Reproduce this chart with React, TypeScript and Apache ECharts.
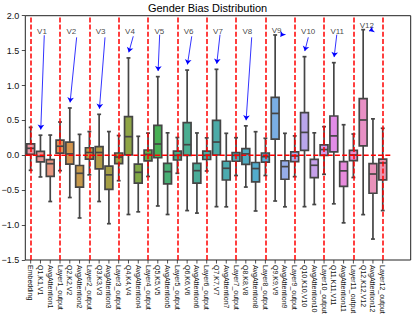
import React, { useEffect, useRef } from "react";
import * as echarts from "echarts";

// ---------------- data ----------------
const categories = [
  "Embedding",
  "Q1,K1,V1", "AvgAttention1", "Layer1_output",
  "Q2,K2,V2", "AvgAttention2", "Layer2_output",
  "Q3,K3,V3", "AvgAttention3", "Layer3_output",
  "Q4,K4,V4", "AvgAttention4", "Layer4_output",
  "Q5,K5,V5", "AvgAttention5", "Layer5_output",
  "Q6,K6,V6", "AvgAttention6", "Layer6_output",
  "Q7,K7,V7", "AvgAttention7", "Layer7_output",
  "Q8,K8,V8", "AvgAttention8", "Layer8_output",
  "Q9,K9,V9", "AvgAttention9", "Layer9_output",
  "Q10,K10,V10", "AvgAttention10", "Layer10_output",
  "Q11,K11,V11", "AvgAttention11", "Layer11_output",
  "Q12,K12,V12", "AvgAttention12", "Layer12_output",
];

const whiskerLow = [
  -0.215,
  -0.31, -0.662, -0.22,
  -0.605, -0.898, -0.28,
  -0.662, -0.98, -0.364,
  -0.848, -0.81, -0.303,
  -0.726, -0.848, -0.258,
  -0.792, -0.828, -0.225,
  -0.736, -0.738, -0.29,
  -0.455, -0.798, -0.29,
  -0.655, -0.738, -0.306,
  -0.736, -0.705, -0.272,
  -0.695, -0.968, -0.318,
  -0.85, -1.2, -0.792,
];
const quartile1 = [
  0.015,
  -0.093, -0.303, 0.03,
  -0.125, -0.455, -0.055,
  -0.195, -0.487, -0.12,
  0.005, -0.4, -0.08,
  -0.035, -0.41, -0.067,
  0.0, -0.398, -0.06,
  0.004, -0.354, -0.085,
  -0.13, -0.382, -0.098,
  0.232, -0.343, -0.09,
  0.07, -0.32, 0.0,
  0.048, -0.444, -0.075,
  0.136, -0.544, -0.352,
];
const medians = [
  0.1,
  -0.015, -0.12, 0.13,
  0.02, -0.258, 0.04,
  0.04, -0.28, -0.025,
  0.267, -0.244, 0.012,
  0.162, -0.234, 0.0,
  0.152, -0.22, 0.0,
  0.19, -0.186, 0.0,
  0.02, -0.19, -0.02,
  0.6, -0.162, -0.01,
  0.328, -0.143, 0.082,
  0.278, -0.223, 0.004,
  0.506, -0.268, -0.11,
];
const quartile3 = [
  0.165,
  0.055, -0.063, 0.218,
  0.19, -0.146, 0.108,
  0.125, -0.155, 0.033,
  0.553, -0.125, 0.076,
  0.43, -0.115, 0.06,
  0.467, -0.115, 0.06,
  0.5, -0.085, 0.038,
  0.095, -0.103, 0.033,
  0.83, -0.078, 0.05,
  0.61, -0.057, 0.148,
  0.563, -0.091, 0.07,
  0.813, -0.12, -0.055,
];
const whiskerHigh = [
  0.4,
  0.288, 0.29, 0.477,
  0.678, 0.3, 0.34,
  0.587, 0.34, 0.283,
  1.395, 0.272, 0.318,
  1.127, 0.322, 0.255,
  1.221, 0.32, 0.25,
  1.232, 0.315, 0.252,
  0.422, 0.338, 0.244,
  1.724, 0.315, 0.278,
  1.413, 0.322, 0.41,
  1.327, 0.438, 0.305,
  1.8, 0.522, 0.387,
];

const separatorIndices = [0, 3, 6, 9, 12, 15, 18, 21, 24, 27, 30, 33, 36];
const annotationLabels = ["V1", "V2", "V3", "V4", "V5", "V6", "V7", "V8", "V9", "V10", "V11", "V12"];
const annotationTargets = [1, 4, 7, 10, 13, 16, 19, 22, 25, 28, 31, 34];
const zeroLineSpan = [-0.55, 37];
const yTicks = { min: -1.5, max: 2.0, step: 0.5 };

// ---------------- layout (not data) ----------------
const X_MIN = -0.55;
const X_MAX = 38.86;
const BOX_W = 0.8;
const TICK_LEN = 3.5;
// [startDx, startDy (rel. text y), endDx, endDy (rel. whisker top)]
const arrowLayout = [
  [0.39, -0.06, 0.03, 0.08],
  [0.7, -0.09, 0.03, 0.08],
  [0.6, -0.09, 0.03, 0.08],
  [0.49, -0.075, 0.03, 0.08],
  [0.19, -0.052, 0.03, 0.08],
  [0.47, -0.075, 0.03, 0.08],
  [0.36, -0.052, 0.03, 0.08],
  [0.6, -0.09, 0.03, 0.08],
  [0.74, -0.046, 0.55, -0.024],
  [0.39, -0.09, 0.03, 0.08],
  [0.3, -0.052, 0.03, 0.08],
  [0.94, -0.06, 0.6, -0.02],
];
const FONT = "'Liberation Sans', Arial, sans-serif";

// ---------------- seaborn husl palette ----------------
const M = [
  [3.2406, -1.5372, -0.4986],
  [-0.9689, 1.8758, 0.0415],
  [0.0557, -0.204, 1.057],
];
function maxChroma(L: number, H: number) {
  const hrad = (H * Math.PI) / 180;
  const sinH = Math.sin(hrad);
  const cosH = Math.cos(hrad);
  const sub1 = Math.pow(L + 16, 3) / 1560896;
  const sub2 = sub1 > 0.008856 ? sub1 : L / 903.3;
  let result = Infinity;
  for (const [m1, m2, m3] of M) {
    const top = (0.99915 * m1 + 1.05122 * m2 + 1.1446 * m3) * sub2;
    const rbottom = 0.8633 * m3 - 0.17266 * m2;
    const lbottom = 0.12949 * m3 - 0.38848 * m1;
    const bottom = (rbottom * sinH + lbottom * cosH) * sub2;
    for (const t of [0, 1]) {
      const C = (L * (top - 1.05122 * t)) / (bottom + 0.17266 * sinH * t);
      if (C > 0 && C < result) result = C;
    }
  }
  return result;
}
function huslToRgb(H: number, S: number, L: number): number[] {
  const C = (maxChroma(L, H) / 100) * S;
  const hr = (H * Math.PI) / 180;
  const U = Math.cos(hr) * C;
  const V = Math.sin(hr) * C;
  const t = (L + 16) / 116;
  const varY = Math.pow(t, 3) > 0.008856 ? Math.pow(t, 3) : (116 * t - 16) / 903.3;
  const varU = U / (13 * L) + 0.19784;
  const varV = V / (13 * L) + 0.46834;
  const Y = varY;
  const X = -(9 * Y * varU) / ((varU - 4) * varV - varU * varV);
  const Z = (9 * Y - 15 * varV * Y - varV * X) / (3 * varV);
  return M.map((r) => {
    const c = r[0] * X + r[1] * Y + r[2] * Z;
    const v = c <= 0.0031308 ? 12.92 * c : 1.055 * Math.pow(c, 1 / 2.4) - 0.055;
    return Math.min(1, Math.max(0, v));
  });
}
function rgbToHls(r: number, g: number, b: number) {
  const maxc = Math.max(r, g, b);
  const minc = Math.min(r, g, b);
  const l = (maxc + minc) / 2;
  if (maxc === minc) return [0, l, 0];
  const rng = maxc - minc;
  const s = l <= 0.5 ? rng / (maxc + minc) : rng / (2 - maxc - minc);
  const rc = (maxc - r) / rng, gc = (maxc - g) / rng, bc = (maxc - b) / rng;
  let h = r === maxc ? bc - gc : g === maxc ? 2 + rc - bc : 4 + gc - rc;
  h = (((h / 6) % 1) + 1) % 1;
  return [h, l, s];
}
function hlsToRgb(h: number, l: number, s: number) {
  if (s === 0) return [l, l, l];
  const m2 = l <= 0.5 ? l * (1 + s) : l + s - l * s;
  const m1 = 2 * l - m2;
  const v = (hue: number) => {
    hue = ((hue % 1) + 1) % 1;
    if (hue < 1 / 6) return m1 + (m2 - m1) * hue * 6;
    if (hue < 0.5) return m2;
    if (hue < 2 / 3) return m1 + (m2 - m1) * (2 / 3 - hue) * 6;
    return m1;
  };
  return [v(h + 1 / 3), v(h), v(h - 1 / 3)];
}
const toHex = (c: number[]) =>
  "#" + c.map((x) => Math.round(x * 255).toString(16).padStart(2, "0")).join("");

const n = categories.length;
const desat = Array.from({ length: n }, (_, i) => {
  const hue = (((i / n) + 0.01) % 1) * 359;
  const rgb = huslToRgb(hue, 0.9 * 99, 0.7 * 99);
  const [h, l, s] = rgbToHls(rgb[0], rgb[1], rgb[2]);
  return hlsToRgb(h, l, s * 0.75);
});
const boxColors = desat.map(toHex);
const lum = Math.min(...desat.map((c) => rgbToHls(c[0], c[1], c[2])[1])) * 0.6;
const GRAY = toHex([lum, lum, lum]);

// ---------------- component ----------------
export default function App() {
  const ref = useRef<HTMLDivElement>(null);
  useEffect(() => {
    if (!ref.current) return;
    const chart = echarts.init(ref.current, undefined, { renderer: "svg" });

    const boxData = categories.map((_, i) => [
      i, whiskerLow[i], quartile1[i], medians[i], quartile3[i], whiskerHigh[i],
    ]);

    const textY = annotationTargets.map((t) => Math.max(whiskerHigh[t], 1.72) + 0.06);
    const labelData = annotationTargets.map((t, k) => [t - 0.4, textY[k]]);

    const redStyle = { color: "#ff0000", width: 1.5, type: [5, 2.2] as any, opacity: 1 };
    const blueStyle = { color: "#0000ff", width: 0.8, type: "solid", opacity: 1 };

    const redLines: any[] = separatorIndices.map((i) => ({ xAxis: i }));

    const arrowLines: any[] = annotationTargets.map((t, k) => {
      const [sdx, sdy, edx, edy] = arrowLayout[k];
      return [
        { coord: [t + sdx, textY[k] + sdy], symbol: "none" },
        { coord: [t + edx, whiskerHigh[t] + edy], symbol: "arrow", symbolSize: 5 },
      ];
    });

    const hiddenLine = { show: false, onZero: false };

    const option: any = {
      animation: false,
      title: {
        text: "Gender Bias Distribution",
        left: "center",
        top: 1,
        padding: 0,
        textStyle: { fontSize: 11, fontWeight: "normal", color: "#000", fontFamily: FONT, lineHeight: 13 },
      },
      grid: {
        left: 25.3,
        right: 4.3,
        top: 15.7,
        bottom: 55,
        containLabel: false,
        outerBoundsMode: "none",
        show: true,
        borderColor: "#222",
        borderWidth: 1,
        backgroundColor: "transparent",
      },
      xAxis: {
        type: "value",
        min: X_MIN,
        max: X_MAX,
        position: "bottom",
        splitLine: { show: false },
        minorSplitLine: { show: false },
        axisLine: hiddenLine,
        axisTick: { show: false },
        axisLabel: {
          show: true,
          rotate: -90,
          margin: 5,
          fontSize: 7,
          color: "#111",
          fontFamily: FONT,
          customValues: categories.map((_, i) => i),
          formatter: (v: number) => categories[Math.round(v)] ?? "",
        },
      },
      yAxis: {
        type: "value",
        min: yTicks.min,
        max: yTicks.max,
        interval: yTicks.step,
        position: "left",
        splitLine: { show: false },
        minorSplitLine: { show: false },
        axisLine: hiddenLine,
        axisTick: { show: true, length: TICK_LEN, lineStyle: { color: "#222", width: 0.8 } },
        axisLabel: {
          margin: 6,
          fontSize: 9,
          color: "#111",
          fontFamily: FONT,
          formatter: (v: number) => (v < 0 ? "\u2212" + Math.abs(v).toFixed(1) : v.toFixed(1)),
        },
      },
      series: [
        {
          type: "custom",
          z: 2,
          clip: false,
          encode: { x: 0, y: [1, 2, 3, 4, 5] },
          data: boxData,
          renderItem: (params: any, api: any) => {
            const x = api.value(0);
            const lo = api.coord([x, api.value(1)]);
            const yq1 = api.coord([x, api.value(2)])[1];
            const ymd = api.coord([x, api.value(3)])[1];
            const yq3 = api.coord([x, api.value(4)])[1];
            const yhi = api.coord([x, api.value(5)])[1];
            const yAxisBottom = api.coord([x, yTicks.min])[1];
            const cx = lo[0];
            const ylo = lo[1];
            const half = api.size([BOX_W, 0])[0] / 2;
            const cap = half / 2;
            const ls = { stroke: GRAY, lineWidth: 1.7, fill: "none" };
            return {
              type: "group",
              children: [
                {
                  type: "line",
                  shape: { x1: cx, y1: yAxisBottom, x2: cx, y2: yAxisBottom + TICK_LEN },
                  style: { stroke: "#222", lineWidth: 0.8 },
                },
                { type: "line", shape: { x1: cx, y1: yq3, x2: cx, y2: yhi }, style: ls },
                { type: "line", shape: { x1: cx, y1: yq1, x2: cx, y2: ylo }, style: ls },
                { type: "line", shape: { x1: cx - cap, y1: yhi, x2: cx + cap, y2: yhi }, style: ls },
                { type: "line", shape: { x1: cx - cap, y1: ylo, x2: cx + cap, y2: ylo }, style: ls },
                {
                  type: "rect",
                  shape: { x: cx - half, y: yq3, width: half * 2, height: yq1 - yq3 },
                  style: { fill: boxColors[params.dataIndex], stroke: GRAY, lineWidth: 1.7 },
                },
                { type: "line", shape: { x1: cx - half, y1: ymd, x2: cx + half, y2: ymd }, style: ls },
              ],
            };
          },
        },
        {
          type: "line",
          z: 10,
          symbol: "none",
          silent: true,
          data: zeroLineSpan.map((x) => [x, 0]),
          lineStyle: redStyle,
        },
        {
          type: "scatter",
          z: 6,
          symbolSize: 1,
          itemStyle: { color: "rgba(0,0,0,0)" },
          data: labelData,
          label: {
            show: true,
            position: "right",
            distance: 0,
            fontSize: 8,
            color: "#111",
            fontFamily: FONT,
            formatter: (p: any) => annotationLabels[p.dataIndex],
          },
          markLine: {
            silent: true,
            symbol: "none",
            z: 5,
            label: { show: false },
            emphasis: { disabled: true },
            lineStyle: blueStyle,
            itemStyle: { color: "#0000ff" },
            data: arrowLines,
          },
        },
        {
          type: "scatter",
          z: 5,
          symbolSize: 0,
          data: [],
          markLine: {
            silent: true,
            symbol: "none",
            z: 5,
            label: { show: false },
            emphasis: { disabled: true },
            lineStyle: redStyle,
            data: redLines,
          },
        },
      ],
    };

    chart.setOption(option);
    return () => chart.dispose();
  }, []);

  return (
    <div
      ref={ref}
      style={{ position: "fixed", left: 0, top: 0, width: 415, height: 315, background: "#fff" }}
    />
  );
}
